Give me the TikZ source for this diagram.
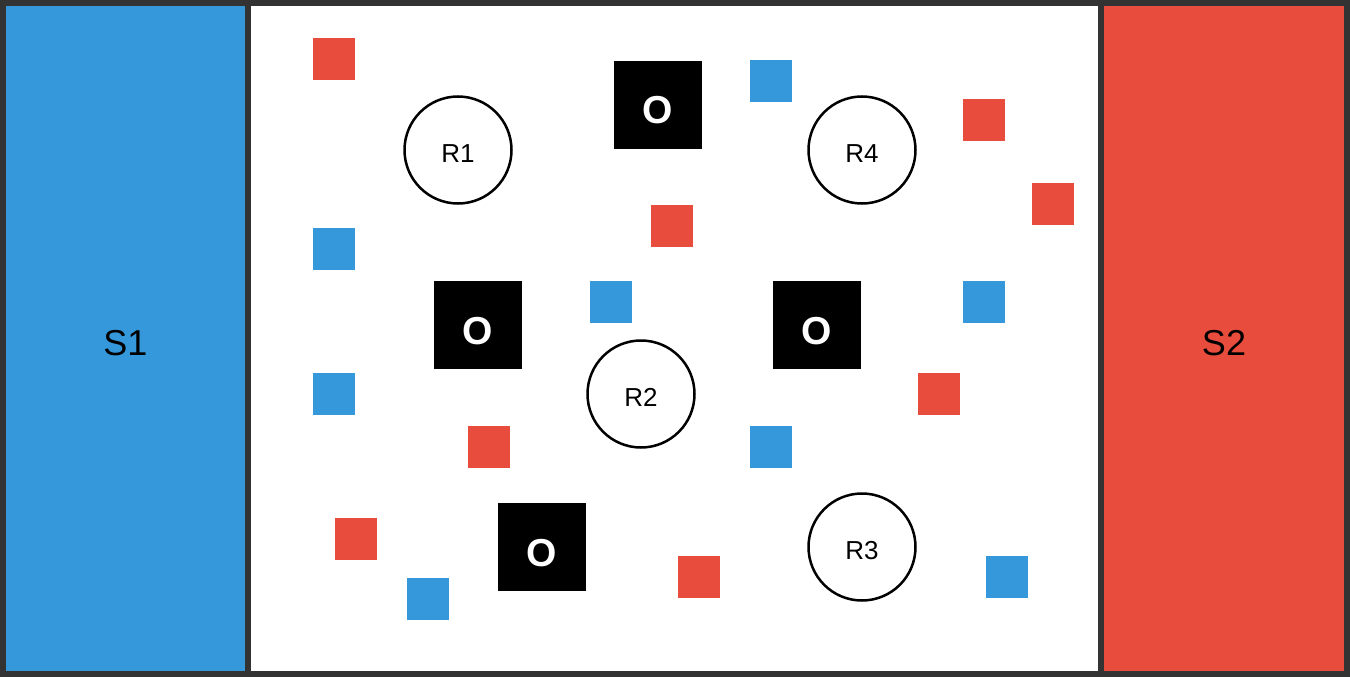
\documentclass[tikz,border=0pt]{standalone}
\usepackage{fontspec}
\setmainfont{Liberation Sans}
\usepackage{tikz}
\usetikzlibrary{positioning}
\usepackage{xcolor}
\definecolor{sideblue}{HTML}{3498DB}
\definecolor{sidered}{HTML}{E74C3C}
\definecolor{framegray}{HTML}{333333}

\begin{document}
\begin{tikzpicture}[x=1pt, y=-1pt,
  panel/.style={rectangle, draw=framegray, line width=6pt, minimum height=671pt, inner sep=0pt, text height=33pt, text depth=0pt, font=\fontsize{36}{40}\selectfont},
  redtok/.style={rectangle, fill=sidered, minimum size=42pt, inner sep=0pt},
  bluetok/.style={rectangle, fill=sideblue, minimum size=42pt, inner sep=0pt},
  wall/.style={rectangle, fill=black, minimum size=88pt, inner sep=0pt, text=white, text height=38pt, text depth=0pt, font=\fontsize{39}{42}\selectfont\bfseries},
  robot/.style={circle, draw=black, line width=2.5pt, fill=white, minimum size=107pt, inner sep=0pt, text height=25.5pt, text depth=0pt, font=\fontsize{26}{30}\selectfont}
]
\useasboundingbox (0,0) rectangle (1350,677);
\fill[white] (0,0) rectangle (1350,677);

% Side panels
\node[panel, fill=sideblue, minimum width=245pt] (s1) at (125.5,338.5) {S1};
\node[panel, fill=sidered, minimum width=246pt] (s2) at (1224,338.5) {S2};
\draw[framegray, line width=6pt] (3,3) rectangle (1347,674);

% Red tokens
\node[redtok] (r-a) at (334,59) {};
\node[redtok] (r-b) at (984,120) {};
\node[redtok] (r-c) at (1053,204) {};
\node[redtok] (r-d) at (672,226) {};
\node[redtok] (r-e) at (939,394) {};
\node[redtok] (r-f) at (489,447) {};
\node[redtok] (r-g) at (356,539) {};
\node[redtok] (r-h) at (699,577) {};

% Blue tokens
\node[bluetok] (b-a) at (771,81) {};
\node[bluetok] (b-b) at (334,249) {};
\node[bluetok] (b-c) at (611,302) {};
\node[bluetok] (b-d) at (984,302) {};
\node[bluetok] (b-e) at (334,394) {};
\node[bluetok] (b-f) at (771,447) {};
\node[bluetok] (b-g) at (428,599) {};
\node[bluetok] (b-h) at (1007,577) {};

% Obstacles
\node[wall] (o1) at (658,105) {O};
\node[wall] (o2) at (478,325) {O};
\node[wall] (o3) at (817,325) {O};
\node[wall] (o4) at (542,547) {O};

% Robots
\node[robot] (rb1) at (458,150) {R1};
\node[robot] (rb2) at (641,394) {R2};
\node[robot] (rb3) at (862,547) {R3};
\node[robot] (rb4) at (862,150) {R4};

\end{tikzpicture}
\end{document}
